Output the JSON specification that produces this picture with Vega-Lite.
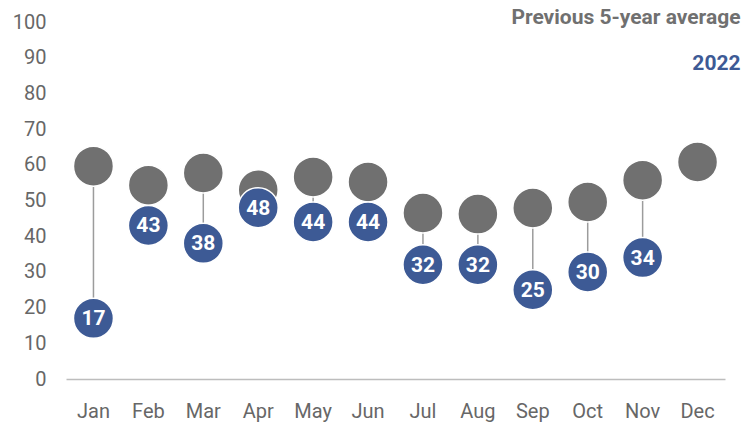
{
  "$schema": "https://vega.github.io/schema/vega-lite/v6.json",
  "width": 659,
  "height": 357,
  "autosize": {"type": "none"},
  "padding": {"left": 66, "top": 22, "right": 22, "bottom": 46},
  "background": "white",
  "config": {
    "view": {"stroke": null},
    "font": "Roboto",
    "axis": {"grid": false, "ticks": false, "labelFont": "Roboto", "labelFontSize": 20, "labelColor": "#676767", "title": null, "labelOverlap": false}
  },
  "datasets": {
    "main": [
      {"month": "Jan", "avg": 59.6, "y2022": 17},
      {"month": "Feb", "avg": 54.3, "y2022": 43},
      {"month": "Mar", "avg": 57.7, "y2022": 38},
      {"month": "Apr", "avg": 53.0, "y2022": 48},
      {"month": "May", "avg": 56.6, "y2022": 44},
      {"month": "Jun", "avg": 55.2, "y2022": 44},
      {"month": "Jul", "avg": 46.5, "y2022": 32},
      {"month": "Aug", "avg": 46.2, "y2022": 32},
      {"month": "Sep", "avg": 47.9, "y2022": 25},
      {"month": "Oct", "avg": 49.6, "y2022": 30},
      {"month": "Nov", "avg": 55.7, "y2022": 34},
      {"month": "Dec", "avg": 60.8, "y2022": null}
    ],
    "legend": [
      {"month": "Dec", "pos": 101, "label": "Previous 5-year average", "series": "avg"},
      {"month": "Dec", "pos": 88.2, "label": "2022", "series": "2022"}
    ]
  },
  "data": {"name": "main"},
  "encoding": {
    "x": {
      "field": "month", "type": "nominal", "sort": null,
      "scale": {"domain": ["Jan","Feb","Mar","Apr","May","Jun","Jul","Aug","Sep","Oct","Nov","Dec"], "paddingInner": 0, "paddingOuter": 0},
      "axis": {"labelAngle": 0, "labelPadding": 22, "domainColor": "#bdbdbd", "domainWidth": 1.5}
    }
  },
  "layer": [
    {
      "transform": [{"filter": "datum.y2022 != null"}],
      "mark": {"type": "rule", "color": "#9c9c9c", "strokeWidth": 1.5},
      "encoding": {
        "y": {"field": "avg", "type": "quantitative", "scale": {"domain": [0, 100], "nice": false}, "axis": {"values": [0,10,20,30,40,50,60,70,80,90,100], "domain": false, "labelPadding": 20, "labelBound": false, "labelOverlap": false}},
        "y2": {"field": "y2022"}
      }
    },
    {
      "mark": {"type": "circle", "color": "#707070", "opacity": 1, "size": 1600, "stroke": "white", "strokeWidth": 1.5},
      "encoding": {"y": {"field": "avg", "type": "quantitative", "axis": {"values": [0,10,20,30,40,50,60,70,80,90,100], "domain": false, "labelPadding": 20, "labelBound": false, "labelOverlap": false}}}
    },
    {
      "transform": [{"filter": "datum.y2022 != null"}],
      "mark": {"type": "circle", "color": "#3d5a95", "opacity": 1, "size": 1600, "stroke": "white", "strokeWidth": 1.5},
      "encoding": {"y": {"field": "y2022", "type": "quantitative", "axis": {"values": [0,10,20,30,40,50,60,70,80,90,100], "domain": false, "labelPadding": 20, "labelBound": false, "labelOverlap": false}}}
    },
    {
      "transform": [{"filter": "datum.y2022 != null"}],
      "mark": {"type": "text", "color": "white", "font": "Roboto", "fontWeight": "bold", "fontSize": 21, "baseline": "middle", "align": "center", "dy": 1},
      "encoding": {"y": {"field": "y2022", "type": "quantitative", "axis": {"values": [0,10,20,30,40,50,60,70,80,90,100], "domain": false, "labelPadding": 20, "labelBound": false, "labelOverlap": false}}, "text": {"field": "y2022", "type": "quantitative"}}
    },
    {
      "data": {"name": "legend"},
      "mark": {"type": "text", "font": "Roboto", "fontWeight": "bold", "fontSize": 21, "align": "right", "baseline": "middle", "dx": 43},
      "encoding": {
        "y": {"field": "pos", "type": "quantitative", "axis": {"values": [0,10,20,30,40,50,60,70,80,90,100], "domain": false, "labelPadding": 20, "labelBound": false, "labelOverlap": false}},
        "text": {"field": "label"},
        "color": {"field": "series", "type": "nominal", "scale": {"domain": ["avg", "2022"], "range": ["#707070", "#3d5a95"]}, "legend": null}
      }
    }
  ]
}
